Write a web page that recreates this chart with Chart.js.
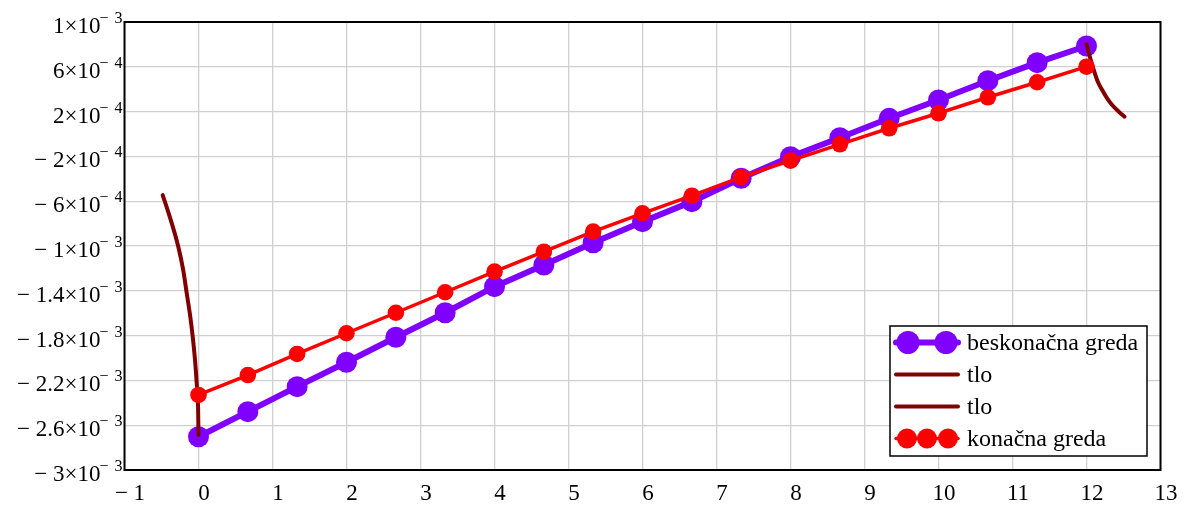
<!DOCTYPE html>
<html>
<head>
<meta charset="utf-8">
<script src="https://cdn.jsdelivr.net/npm/chart.js@4.4.1/dist/chart.umd.min.js"></script>
<style>
    html, body { margin: 0; padding: 0; background: #fff; }
    canvas { display: block; }
</style>
</head>
<body>
<canvas id="chart" width="1188" height="513"></canvas>
<script>
const beamX = [0, 0.667, 1.333, 2, 2.667, 3.333, 4, 4.667, 5.333, 6, 6.667, 7.333, 8, 8.667, 9.333, 10, 10.667, 11.333, 12];
const infiniteBeam = [-2.703e-3, -2.479e-3, -2.256e-3, -2.038e-3, -1.815e-3, -1.596e-3, -1.363e-3, -1.170e-3, -0.971e-3, -0.783e-3, -0.604e-3, -0.395e-3, -0.203e-3, -0.033e-3, 0.140e-3, 0.304e-3, 0.476e-3, 0.637e-3, 0.786e-3];
const finiteBeam = [-2.330e-3, -2.152e-3, -1.964e-3, -1.779e-3, -1.596e-3, -1.413e-3, -1.229e-3, -1.051e-3, -0.872e-3, -0.708e-3, -0.551e-3, -0.385e-3, -0.238e-3, -0.092e-3, 0.051e-3, 0.185e-3, 0.328e-3, 0.462e-3, 0.601e-3];

const soilLeftX = [-0.484, -0.403, -0.273, -0.207, -0.159, -0.111, -0.078, -0.047, -0.024, -0.005, 0];
const soilLeftY = [-0.545e-3, -0.708e-3, -1.006e-3, -1.214e-3, -1.422e-3, -1.631e-3, -1.81e-3, -2.018e-3, -2.226e-3, -2.464e-3, -2.688e-3];
const soilRightX = [12, 12.045, 12.099, 12.153, 12.212, 12.279, 12.347, 12.437, 12.514];
const soilRightY = [0.801e-3, 0.690e-3, 0.571e-3, 0.467e-3, 0.393e-3, 0.319e-3, 0.259e-3, 0.199e-3, 0.155e-3];

const xTickValues = [-1, 0, 1, 2, 3, 4, 5, 6, 7, 8, 9, 10, 11, 12, 13];
const xTickLabels = ['− 1', '0', '1', '2', '3', '4', '5', '6', '7', '8', '9', '10', '11', '12', '13'];
const yTickValues = [1e-3, 6e-4, 2e-4, -2e-4, -6e-4, -1e-3, -1.4e-3, -1.8e-3, -2.2e-3, -2.6e-3, -3e-3];
const yTickMantissa = ['1', '6', '2', '− 2', '− 6', '− 1', '− 1.4', '− 1.8', '− 2.2', '− 2.6', '− 3'];
const yTickExponent = ['3', '4', '4', '4', '4', '3', '3', '3', '3', '3', '3'];

const seriesLabels = ['beskonačna greda', 'tlo', 'tlo', 'konačna greda'];

const PURPLE = '#8000ff';
const RED = '#ff0000';
const MAROON = '#800000';
const SERIF = '"Liberation Serif", "DejaVu Serif", serif';

function points(xs, ys) {
    return xs.map((x, i) => ({ x, y: ys[i] }));
}

function soilDataset(label, xs, ys) {
    return {
        label,
        data: points(xs, ys),
        showLine: true,
        borderColor: MAROON,
        borderWidth: 4,
        borderCapStyle: 'round',
        cubicInterpolationMode: 'monotone',
        pointRadius: 0,
        order: 2,
        legendMarks: 0,
    };
}

const frameAndText = {
    id: 'frameAndText',
    afterDraw(chart) {
        const { ctx, chartArea: a, scales: { x, y } } = chart;
        ctx.save();

        ctx.strokeStyle = '#000';
        ctx.lineWidth = 2;
        ctx.strokeRect(a.left, a.top, a.right - a.left, a.bottom - a.top);

        ctx.fillStyle = '#000';
        ctx.textBaseline = 'alphabetic';

        // x tick labels
        ctx.font = '23px ' + SERIF;
        ctx.textAlign = 'center';
        xTickValues.forEach((v, i) => {
            ctx.fillText(xTickLabels[i], x.getPixelForValue(v) + 5.5, a.bottom + 30);
        });

        // y tick labels: mantissa ×10 with superscript exponent
        ctx.textAlign = 'right';
        yTickValues.forEach((v, i) => {
            const py = y.getPixelForValue(v);
            const right = a.left - 2;
            ctx.font = '16px ' + SERIF;
            const digitW = ctx.measureText(yTickExponent[i]).width;
            ctx.fillText(yTickExponent[i], right, py + 1);
            const minusRight = right - digitW - 6;
            ctx.fillText('−', minusRight, py + 1);
            const supLeft = minusRight - ctx.measureText('−').width;
            ctx.font = '23px ' + SERIF;
            ctx.fillText(yTickMantissa[i] + '×10', supLeft + 1, py + 11);
        });

        // legend
        const bx = a.right - 270.5;
        const by = a.bottom - 144;
        const bw = 257;
        const bh = 130;
        ctx.fillStyle = '#fff';
        ctx.fillRect(bx, by, bw, bh);
        ctx.strokeStyle = '#000';
        ctx.lineWidth = 1.5;
        ctx.strokeRect(bx, by, bw, bh);

        chart.data.datasets.forEach((ds, row) => {
            const cy = by + 16.5 + row * 32;
            const x0 = bx + 6;
            const x1 = bx + 68;
            ctx.strokeStyle = ds.borderColor;
            ctx.lineWidth = ds.borderWidth;
            ctx.lineCap = 'round';
            ctx.beginPath();
            ctx.moveTo(x0, cy);
            ctx.lineTo(x1, cy);
            ctx.stroke();
            ctx.fillStyle = ds.borderColor;
            if (ds.legendMarks === 2) {
                [x0 + 12, x1 - 12].forEach((mx) => {
                    ctx.beginPath();
                    ctx.arc(mx, cy, 11.5, 0, Math.PI * 2);
                    ctx.fill();
                });
            } else if (ds.legendMarks === 3) {
                [x0 + 11, x0 + 31, x0 + 52].forEach((mx) => {
                    ctx.beginPath();
                    ctx.arc(mx, cy, 10, 0, Math.PI * 2);
                    ctx.fill();
                });
            }
            ctx.fillStyle = '#000';
            ctx.font = '24px ' + SERIF;
            ctx.textAlign = 'left';
            ctx.fillText(ds.label, bx + 77, cy + 7);
        });

        ctx.restore();
    },
};

new Chart(document.getElementById('chart'), {
    type: 'scatter',
    data: {
        datasets: [
            {
                label: seriesLabels[0],
                data: points(beamX, infiniteBeam),
                showLine: true,
                borderColor: PURPLE,
                backgroundColor: PURPLE,
                borderWidth: 6,
                pointRadius: 10.5,
                pointBorderWidth: 0,
                order: 3,
                legendMarks: 2,
            },
            soilDataset(seriesLabels[1], soilLeftX, soilLeftY),
            soilDataset(seriesLabels[2], soilRightX, soilRightY),
            {
                label: seriesLabels[3],
                data: points(beamX, finiteBeam),
                showLine: true,
                borderColor: RED,
                backgroundColor: RED,
                borderWidth: 3.5,
                pointRadius: 8.3,
                pointBorderWidth: 0,
                order: 1,
                legendMarks: 3,
            },
        ],
    },
    options: {
        responsive: false,
        animation: false,
        events: [],
        layout: { padding: { top: 22, right: 27.5, left: 0, bottom: 0 } },
        plugins: {
            legend: { display: false },
            tooltip: { enabled: false },
        },
        scales: {
            x: {
                type: 'linear',
                min: -1,
                max: 13,
                afterBuildTicks(scale) {
                    scale.ticks = xTickValues.map((v) => ({ value: v }));
                },
                afterFit(scale) {
                    scale.height = 43;
                },
                ticks: { display: false },
                grid: { color: '#d0d0d0', lineWidth: 1.3, drawTicks: false },
                border: { display: false },
            },
            y: {
                type: 'linear',
                min: -3e-3,
                max: 1e-3,
                afterBuildTicks(scale) {
                    scale.ticks = yTickValues.map((v) => ({ value: v }));
                },
                afterFit(scale) {
                    scale.width = 124.5;
                },
                ticks: { display: false },
                grid: { color: '#d0d0d0', lineWidth: 1.3, drawTicks: false },
                border: { display: false },
            },
        },
    },
    plugins: [frameAndText],
});
</script>
</body>
</html>
